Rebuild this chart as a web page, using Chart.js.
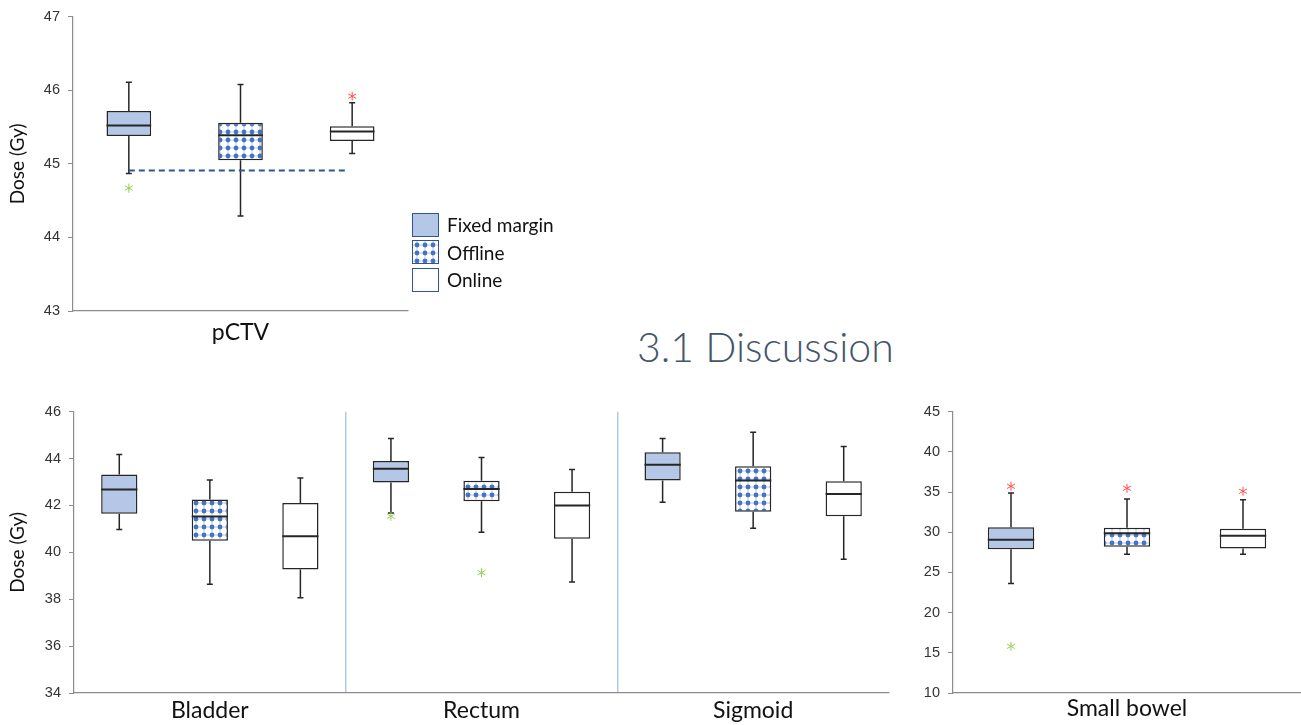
<!DOCTYPE html>
<html>
<head>
<meta charset="utf-8">
<script src="https://cdn.jsdelivr.net/npm/chart.js@4.4.1/dist/chart.umd.min.js"></script>
<style>
  body { margin: 0; background: #fff; width: 1301px; height: 725px; overflow: hidden; position: relative; font-family: Lato, sans-serif; }
  canvas { position: absolute; }
  #title { position: absolute; left: 637px; top: 326px; font-family: Lato; font-weight: 300; font-size: 41px; line-height: 41px; color: #44546a; white-space: nowrap; }
  #legend { position: absolute; left: 412px; top: 211px; }
  .item { display: flex; align-items: center; height: 27.5px; font-size: 19px; color: #111; }
  .sw { width: 27px; height: 24px; border: 1.5px solid #2f5597; box-sizing: border-box; margin-right: 8px; background: #fff; }
</style>
</head>
<body>
<canvas id="top" width="420" height="345" style="left:0;top:0"></canvas>
<canvas id="organs" width="900" height="330" style="left:0;top:395px"></canvas>
<canvas id="bowel" width="401" height="330" style="left:900px;top:395px"></canvas>
<div id="title">3.1 Discussion</div>
<div id="legend"></div>
<script>
// each box: [min, q1, median, q3, max]
const seriesNames = ['Fixed margin', 'Offline', 'Online'];

const pctvLabels = ['pCTV'];
const pctvFixed = [[44.87, 45.38, 45.52, 45.72, 46.11]];
const pctvOffline = [[44.29, 45.05, 45.39, 45.56, 46.08]];
const pctvOnline = [[45.14, 45.31, 45.44, 45.51, 45.83]];
const pctvFixedOut = [[44.67]];
const pctvOfflineOut = [[]];
const pctvOnlineOut = [[45.92]];
const pctvRefDose = 44.91;

const organLabels = ['Bladder', 'Rectum', 'Sigmoid'];
const organFixed = [[40.97, 41.65, 42.68, 43.32, 44.17], [41.68, 42.98, 43.57, 43.90, 44.86], [42.14, 43.06, 43.74, 44.27, 44.86]];
const organOffline = [[38.64, 40.50, 41.53, 42.25, 43.09], [40.86, 42.18, 42.70, 43.05, 44.05], [41.03, 41.73, 43.06, 43.67, 45.12]];
const organOnline = [[38.06, 39.27, 40.69, 42.10, 43.17], [38.73, 40.58, 42.00, 42.59, 43.53], [39.71, 41.54, 42.49, 43.03, 44.52]];
const organFixedOut = [[], [41.54], []];
const organOfflineOut = [[], [39.13], []];
const organOnlineOut = [[], [], []];

const bowelLabels = ['Small bowel'];
const bowelFixed = [[23.63, 27.90, 29.06, 30.63, 34.90]];
const bowelOffline = [[27.27, 28.19, 29.88, 30.55, 34.15]];
const bowelOnline = [[27.27, 27.98, 29.56, 30.43, 34.03]];
const bowelFixedOut = [[15.81, 35.72]];
const bowelOfflineOut = [[35.47]];
const bowelOnlineOut = [[35.10]];

const axisGrey = '#8c8c8c';
const tickFont = { family: 'Liberation Sans', size: 14.5 };

// dotted fill for the "Offline" boxes
function dotPattern() {
  const c = document.createElement('canvas');
  c.width = 8; c.height = 8;
  const g = c.getContext('2d');
  g.fillStyle = '#fff';
  g.fillRect(0, 0, 8, 8);
  g.strokeStyle = '#a9bfe6';
  g.lineWidth = 0.8;
  g.beginPath();
  g.moveTo(0, 4); g.lineTo(8, 4);
  g.moveTo(4, 0); g.lineTo(4, 8);
  g.stroke();
  g.fillStyle = '#4472c4';
  g.beginPath();
  g.arc(4, 4, 2.4, 0, Math.PI * 2);
  g.fill();
  return c;
}
const patCanvas = dotPattern();
const offlineFill = document.createElement('canvas').getContext('2d').createPattern(patCanvas, 'repeat');
const fills = ['#b4c7e7', offlineFill, '#ffffff'];

// legend
const legend = document.getElementById('legend');
seriesNames.forEach((name, i) => {
  const row = document.createElement('div');
  row.className = 'item';
  const sw = document.createElement('div');
  sw.className = 'sw';
  if (i === 0) sw.style.background = '#b4c7e7';
  if (i === 1) sw.style.background = 'url(' + patCanvas.toDataURL() + ')';
  row.appendChild(sw);
  row.appendChild(document.createTextNode(name));
  legend.appendChild(row);
});

function star(ctx, x, y, r) {
  ctx.beginPath();
  ctx.moveTo(x, y - r); ctx.lineTo(x, y + r);
  const dx = r * 0.87, dy = r * 0.5;
  ctx.moveTo(x - dx, y - dy); ctx.lineTo(x + dx, y + dy);
  ctx.moveTo(x - dx, y + dy); ctx.lineTo(x + dx, y - dy);
  ctx.stroke();
}

const boxPlot = {
  id: 'boxPlot',
  afterDatasetsDraw(chart, args, opts) {
    const ctx = chart.ctx, y = chart.scales.y;
    chart.data.datasets.forEach((ds, i) => {
      chart.getDatasetMeta(i).data.forEach((bar, j) => {
        const s = ds.stats[j];
        const x = bar.x, half = bar.width / 2;
        ctx.save();
        ctx.strokeStyle = '#262626';
        ctx.lineWidth = 1.5;
        ctx.beginPath();
        ctx.moveTo(x, y.getPixelForValue(s[3])); ctx.lineTo(x, y.getPixelForValue(s[4]));
        ctx.moveTo(x, y.getPixelForValue(s[1])); ctx.lineTo(x, y.getPixelForValue(s[0]));
        [s[0], s[4]].forEach(v => {
          const py = y.getPixelForValue(v);
          ctx.moveTo(x - 3, py); ctx.lineTo(x + 3, py);
        });
        ctx.stroke();
        ctx.lineWidth = 2;
        ctx.beginPath();
        const pm = y.getPixelForValue(s[2]);
        ctx.moveTo(x - half, pm); ctx.lineTo(x + half, pm);
        ctx.stroke();
        ctx.lineWidth = 1;
        ds.outliers[j].forEach(v => {
          ctx.strokeStyle = v < s[0] ? '#92d050' : '#ff4d4d';
          star(ctx, x, y.getPixelForValue(v), 4.5);
        });
        ctx.restore();
      });
    });
    if (opts.refLine != null) {
      const first = chart.getDatasetMeta(0).data[0];
      const last = chart.getDatasetMeta(chart.data.datasets.length - 1).data[0];
      const py = y.getPixelForValue(opts.refLine);
      ctx.save();
      ctx.strokeStyle = '#2f5597';
      ctx.lineWidth = 2;
      ctx.setLineDash([6, 4]);
      ctx.beginPath();
      ctx.moveTo(first.x, py); ctx.lineTo(last.x - 4, py);
      ctx.stroke();
      ctx.restore();
    }
  }
};

function makeChart(id, labels, stats, outs, ymin, ymax, step, cfg) {
  return new Chart(document.getElementById(id), {
    type: 'bar',
    data: {
      labels: labels,
      datasets: stats.map((st, i) => ({
        label: seriesNames[i],
        data: st.map(s => [s[1], s[3]]),
        stats: st,
        outliers: outs[i],
        backgroundColor: fills[i],
        borderColor: '#262626',
        borderWidth: 1.5,
        borderSkipped: false,
        categoryPercentage: 1,
        barPercentage: 0.4
      }))
    },
    options: {
      responsive: false,
      animation: false,
      layout: { padding: { top: cfg.padTop, right: cfg.padRight, left: 0, bottom: 0 } },
      plugins: { legend: { display: false }, tooltip: { enabled: false }, boxPlot: { refLine: cfg.refLine } },
      scales: {
        x: {
          afterFit: s => { s.height = cfg.xHeight; },
          border: { color: axisGrey, width: 1.2 },
          grid: {
            display: cfg.separators,
            offset: true,
            drawTicks: false,
            lineWidth: 1.5,
            color: c => c.index > 0 ? '#b4c7e7' : 'rgba(0,0,0,0)'
          },
          ticks: { color: '#111', padding: cfg.labelPad, font: { family: 'Lato', size: 23 } }
        },
        y: {
          min: ymin, max: ymax,
          afterFit: s => { s.width = cfg.yWidth; },
          border: { color: axisGrey, width: 1.2 },
          grid: { drawOnChartArea: false, tickLength: 5, color: axisGrey },
          ticks: { stepSize: step, color: '#333', padding: 8, font: tickFont },
          title: {
            display: cfg.yTitle,
            text: 'Dose (Gy)',
            color: '#111',
            font: { family: 'Lato', size: 19 },
            padding: { top: 6, bottom: 0 }
          }
        }
      }
    },
    plugins: [boxPlot]
  });
}

makeChart('top', pctvLabels, [pctvFixed, pctvOffline, pctvOnline], [pctvFixedOut, pctvOfflineOut, pctvOnlineOut],
  43, 47, 1, { padTop: 14, padRight: 12, xHeight: 34, yWidth: 73, labelPad: 8, yTitle: true, separators: false, refLine: pctvRefDose });

makeChart('organs', organLabels, [organFixed, organOffline, organOnline], [organFixedOut, organOfflineOut, organOnlineOut],
  34, 46, 2, { padTop: 16, padRight: 11, xHeight: 32, yWidth: 74, labelPad: 4, yTitle: true, separators: true, refLine: null });

makeChart('bowel', bowelLabels, [bowelFixed, bowelOffline, bowelOnline], [bowelFixedOut, bowelOfflineOut, bowelOnlineOut],
  10, 45, 5, { padTop: 16, padRight: 0, xHeight: 32, yWidth: 53, labelPad: 2, yTitle: false, separators: false, refLine: null });
</script>
</body>
</html>
